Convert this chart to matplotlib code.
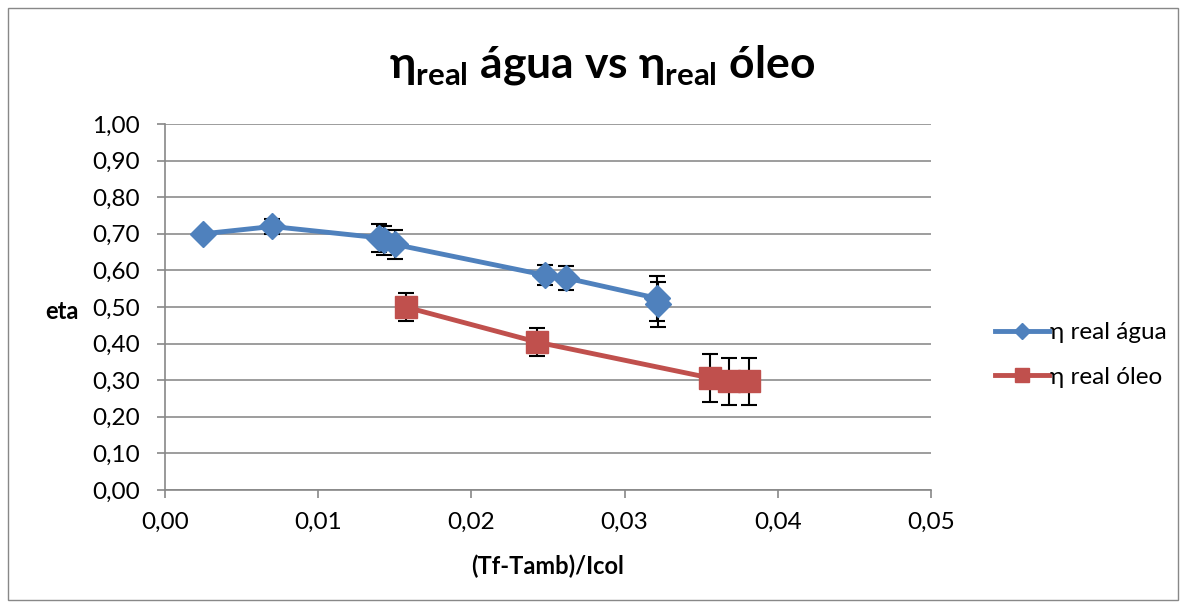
import matplotlib.pyplot as plt
import matplotlib.ticker as ticker
from matplotlib.patches import Rectangle

plt.rcParams['font.family'] = ['Lato', 'DejaVu Sans']
plt.rcParams['mathtext.fontset'] = 'custom'
plt.rcParams['mathtext.rm'] = 'Lato:bold'

# eta real - water
agua_x = [0.0025, 0.0070, 0.0140, 0.0143, 0.0150, 0.0248, 0.0262, 0.0321, 0.0322]
agua_y = [0.700, 0.720, 0.689, 0.682, 0.671, 0.587, 0.579, 0.524, 0.507]
agua_err = [0.0, 0.020, 0.038, 0.040, 0.040, 0.028, 0.033, 0.062, 0.062]

# eta real - oil
oleo_x = [0.0157, 0.0243, 0.0356, 0.0368, 0.0381]
oleo_y = [0.500, 0.404, 0.306, 0.297, 0.297]
oleo_err = [0.038, 0.038, 0.065, 0.065, 0.065]

blue = '#4F81BD'
red = '#C0504D'

fig = plt.figure(figsize=(11.88, 6.06), dpi=100)
ax = fig.add_axes([165 / 1188, 1 - 490 / 606, (931 - 165) / 1188, (490 - 124) / 606])

fig.patches.append(Rectangle((8 / 1188, 6 / 606), 1170 / 1188, 592 / 606,
                             transform=fig.transFigure, fill=False,
                             edgecolor='#888888', linewidth=1.0))

ax.errorbar(agua_x, agua_y, yerr=agua_err, ecolor='black', elinewidth=1.5,
            capsize=6, capthick=1.5, fmt='none', zorder=3)
ax.errorbar(oleo_x, oleo_y, yerr=oleo_err, ecolor='black', elinewidth=1.5,
            capsize=6, capthick=1.5, fmt='none', zorder=3)
ax.plot(agua_x, agua_y, color=blue, linewidth=3.5, marker='D', markersize=13,
        label='η real água', zorder=4)
ax.plot(oleo_x, oleo_y, color=red, linewidth=3.5, marker='s', markersize=16,
        label='η real óleo', zorder=4)

ax.set_xlim(0, 0.05)
ax.set_ylim(0, 1.0)
ax.xaxis.set_major_locator(ticker.MultipleLocator(0.01))
ax.yaxis.set_major_locator(ticker.MultipleLocator(0.1))
fmt = ticker.FuncFormatter(lambda v, p: f'{v:.2f}'.replace('.', ','))
ax.xaxis.set_major_formatter(fmt)
ax.yaxis.set_major_formatter(fmt)
ax.tick_params(labelsize=17.5, color='#888888', length=6, width=1.2)
ax.tick_params(axis='y', pad=12)
ax.tick_params(axis='x', pad=10)
ax.grid(axis='y', color='#8c8c8c', linewidth=1.2)
ax.set_axisbelow(True)
for side in ['top', 'right']:
    ax.spines[side].set_visible(False)
for side in ['left', 'bottom']:
    ax.spines[side].set_color('#888888')
    ax.spines[side].set_linewidth(1.2)

ax.set_xlabel('(Tf-Tamb)/Icol', fontsize=17, fontweight='bold', va='center')
ax.xaxis.set_label_coords(0.5, -0.208)
ax.set_ylabel('eta', fontsize=17, fontweight='bold', rotation=0, va='center', ha='center')
ax.yaxis.set_label_coords(-0.134, 0.489)

fig.text(602 / 1188, 1 - 65 / 606, 'η$_{\\mathrm{real}}$ água vs η$_{\\mathrm{real}}$ óleo',
         fontsize=32, fontweight='bold', ha='center', va='center')

leg = ax.legend(loc='center left', bbox_to_anchor=(1.084, 0.369), frameon=False,
                fontsize=17.5, handlelength=2.2, handletextpad=0.05,
                borderpad=0, borderaxespad=0,
                labelspacing=0.95, markerscale=0.65)

fig.savefig('out.png', dpi=100)
